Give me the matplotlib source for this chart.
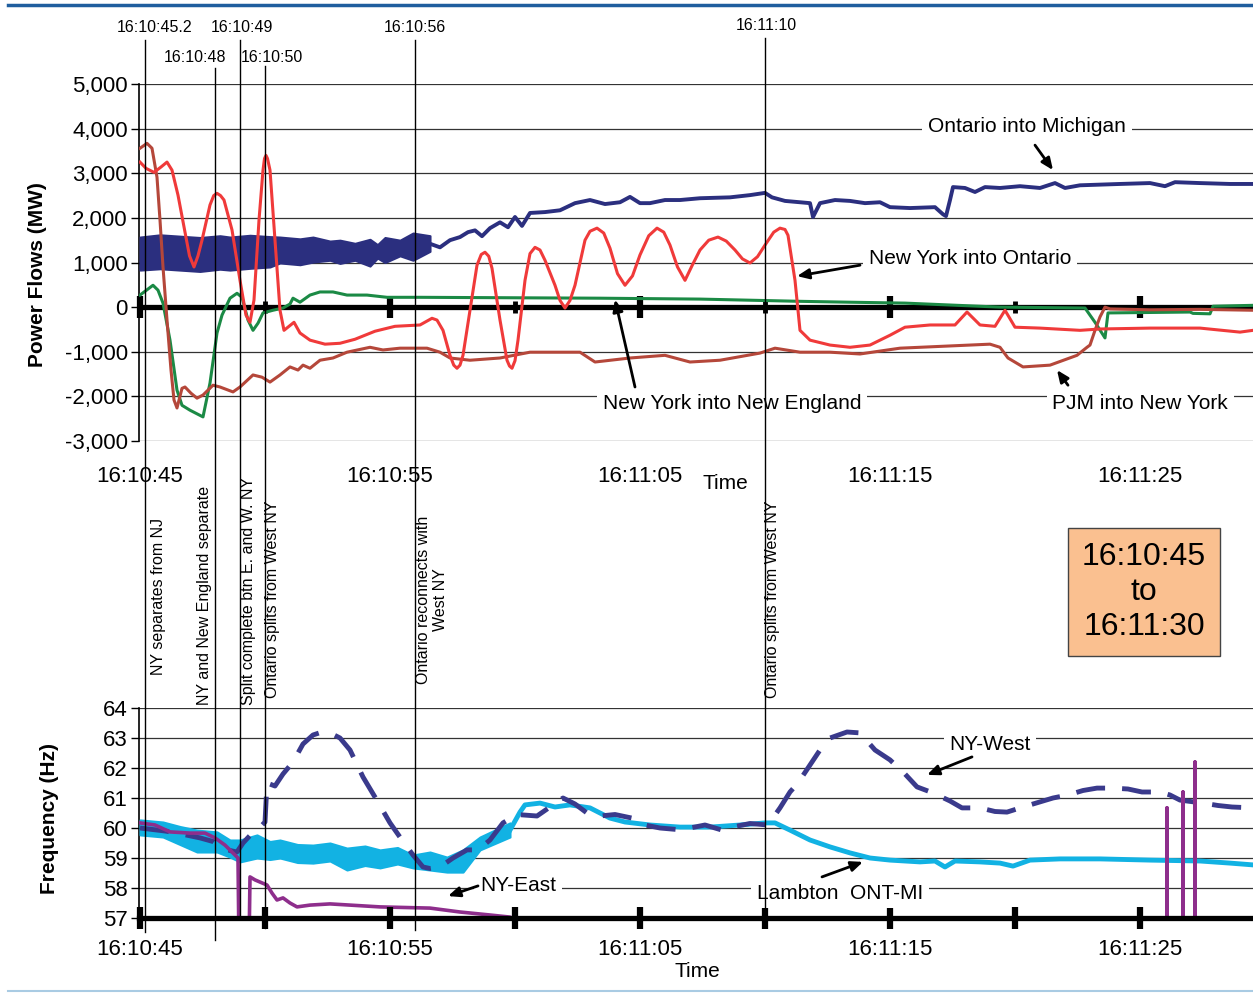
import numpy as np
import matplotlib.pyplot as plt
from matplotlib.lines import Line2D
from matplotlib.transforms import blended_transform_factory

plt.rcParams['font.family'] = ['Liberation Sans', 'DejaVu Sans']

# time is in seconds after 16:10:45
tick_t = [0, 10, 20, 30, 40]
tick_labels = ['16:10:45', '16:10:55', '16:11:05', '16:11:15', '16:11:25']

# ---------------- power flows (MW) ----------------
# Ontario into Michigan: noisy start read as an envelope, then the trace
om_band_t = [0.0, 0.8, 1.6, 2.4, 3.2, 3.6, 4.4, 5.2, 5.6, 6.4, 6.92, 7.6, 8.0, 8.6, 9.2,
             9.5, 9.8, 10.4, 10.92, 11.6]
om_band_hi = [1570, 1620, 1590, 1560, 1600, 1570, 1610, 1580, 1570, 1530, 1570, 1480, 1500,
              1430, 1520, 1400, 1560, 1500, 1660, 1600]
om_band_lo = [830, 860, 830, 800, 850, 830, 870, 900, 990, 950, 1010, 1050, 980, 1050, 920,
              1100, 1000, 1150, 1050, 1250]
om_t = [11.6, 12.0, 12.4, 12.8, 13.12, 13.4, 13.68, 14.0, 14.4, 14.72, 15.0, 15.28,
        15.6, 16.2, 16.8, 17.4, 18.0, 18.6, 19.2, 19.6, 20.0, 20.4, 21.0, 21.6, 22.4,
        23.6, 24.4, 25.0, 25.28, 25.8, 26.4, 26.8, 26.92, 27.2, 27.8, 28.4, 29.0, 29.6,
        30.0, 30.8, 31.8, 32.12, 32.24, 32.4, 32.52, 33.0, 33.4, 33.8, 34.4, 35.2, 36.0,
        36.6, 37.0, 37.6, 39.2, 40.4, 41.0, 41.4, 42.4, 43.6, 44.52]
om_p = [1420, 1340, 1500, 1570, 1680, 1720, 1590, 1770, 1900, 1790, 2020, 1820,
        2110, 2130, 2170, 2330, 2400, 2310, 2350, 2470, 2330, 2330, 2400, 2400, 2440,
        2460, 2510, 2560, 2460, 2380, 2350, 2330, 2020, 2330, 2400, 2380, 2330, 2350,
        2240, 2220, 2240, 2080, 2040, 2400, 2690, 2670, 2580, 2690, 2670, 2710, 2670,
        2780, 2670, 2730, 2760, 2780, 2710, 2800, 2780, 2760, 2760]

# New York into Ontario
nyo_t = [0.0, 0.24, 0.56, 0.84, 1.08, 1.28, 1.52, 1.8, 1.98, 2.16, 2.32, 2.48, 2.8, 2.95,
         3.08, 3.22, 3.36, 3.68, 4.0, 4.24, 4.4, 4.56, 4.76, 4.92, 4.98, 5.04, 5.1, 5.2, 5.4,
         5.6, 5.76, 5.96, 6.16, 6.4, 6.8, 7.4, 8.0, 8.6, 9.4, 10.2, 11.2, 11.68, 11.88, 12.12,
         12.4, 12.55, 12.68, 12.8, 12.92, 13.2, 13.48, 13.65, 13.8, 13.95, 14.08, 14.4, 14.68,
         14.78, 14.88, 15.0, 15.12, 15.4, 15.6, 15.8, 16.0, 16.2, 16.6, 16.8, 17.0, 17.2, 17.4,
         17.8, 18.0, 18.28, 18.55, 18.8, 19.1, 19.4, 19.7, 20.0, 20.35, 20.68, 20.95, 21.2,
         21.5, 21.8, 22.1, 22.4, 22.75, 23.12, 23.45, 23.8, 24.1, 24.4, 24.7, 25.0, 25.35,
         25.6, 25.8, 25.92, 26.2, 26.4, 26.8, 27.6, 28.4, 29.2, 30.0, 30.6, 31.6, 32.6, 33.08,
         33.6, 34.2, 34.6, 35.0, 36.0, 37.6, 38.4, 40.4, 42.4, 44.0, 44.52]
nyo_p = [3250, 3110, 3020, 3140, 3250, 3070, 2510, 1680, 1150, 900, 1150, 1500, 2290, 2500,
         2550, 2500, 2400, 1730, 600, -180, -340, 160, 1950, 3070, 3330, 3400, 3330, 3070, 1500,
         -70, -520, -430, -340, -580, -740, -830, -810, -720, -540, -430, -400, -250, -290, -520,
         -1080, -1300, -1370, -1300, -1080, -70, 940, 1180, 1230, 1140, 870, -290, -1190,
         -1320, -1370, -1200, -740, 600, 1200, 1340, 1280, 1050, 490, 150, -20, 150, 490,
         1500, 1700, 1770, 1660, 1320, 750, 490, 700, 1170, 1600, 1770, 1680, 1390,
         900, 600, 950, 1280, 1500, 1570, 1480, 1280, 1080, 990, 1130, 1390, 1680,
         1770, 1740, 1610, 600, -520, -740, -850, -900, -850, -630, -450, -400, -400, -110,
         -400, -430, -70, -450, -470, -520, -490, -470, -470, -560, -520]

# PJM into New York
pjm_t = [0.0, 0.28, 0.48, 0.68, 0.8, 0.92, 1.08, 1.24, 1.36, 1.48, 1.68, 1.8, 2.04, 2.28,
         2.52, 2.92, 3.2, 3.72, 4.0, 4.52, 4.88, 5.2, 5.6, 6.0, 6.32, 6.52, 6.8, 7.2, 7.72,
         8.28, 9.2, 9.72, 10.4, 11.48, 12.0, 12.4, 13.2, 14.4, 15.6, 17.6, 18.2, 19.6, 21.0,
         22.0, 23.2, 24.8, 25.4, 26.4, 27.6, 28.8, 30.4, 32.4, 34.0, 34.4, 34.72, 35.32,
         36.4, 37.48, 37.88, 38.0, 38.2, 38.4, 38.6, 38.8, 40.4, 42.4, 44.52]
pjm_p = [3560, 3670, 3560, 2910, 1950, 900, -290, -1410, -2080, -2260, -1820, -1790, -1930,
         -2040, -1970, -1750, -1790, -1900, -1790, -1520, -1570, -1680, -1520, -1340, -1410,
         -1300, -1370, -1190, -1140, -1010, -900, -960, -920, -920, -1010, -1140, -1190,
         -1140, -1010, -1010, -1230, -1140, -1080, -1230, -1190, -1030, -920, -1010, -1010,
         -1050, -920, -870, -830, -900, -1140, -1340, -1300, -1080, -900, -850, -520, -220,
         0, -40, -60, -50, -70]

# New York into New England
nyne_t = [0.0, 0.52, 0.72, 0.92, 1.2, 1.48, 1.68, 2.0, 2.52, 2.8, 3.08, 3.28, 3.6, 3.88,
          4.08, 4.32, 4.52, 4.72, 4.92, 5.32, 5.72, 6.0, 6.12, 6.4, 6.8, 7.2, 7.72, 8.28,
          9.08, 9.88, 11.2, 18.4, 22.4, 24.0, 26.4, 28.4, 30.6, 34.4, 37.8, 38.2, 38.6,
          38.72, 42.0, 42.12, 42.8, 42.92, 44.52]
nyne_p = [270, 490, 380, 90, -740, -1860, -2200, -2310, -2460, -1700, -580, -180, 200, 310,
          220, -290, -520, -360, -130, -70, -20, 70, 200, 110, 270, 340, 340, 270,
          270, 220, 220, 200, 180, 160, 130, 110, 90, 0, -20, -340, -690,
          -130, -110, -140, -150, 20, 40]

# ---------------- frequency (Hz) ----------------
# Lambton ONT-MI: noisy band first, then the trace
lam_band_t = [0.0, 0.92, 1.6, 2.28, 3.08, 3.6, 4.0, 4.68, 5.2, 5.6, 6.3, 6.92, 7.6, 8.28,
              9.0, 9.6, 10.3, 10.92, 11.6, 12.28, 12.92, 13.6, 14.8]
lam_band_hi = [60.27, 60.2, 60.05, 59.93, 59.87, 59.6, 59.6, 59.77, 59.55, 59.6, 59.45,
               59.43, 59.5, 59.33, 59.4, 59.27, 59.35, 59.1, 59.2, 59.03, 59.27, 59.7, 60.17]
lam_band_lo = [59.77, 59.7, 59.45, 59.2, 59.2, 59.03, 58.87, 59.0, 58.95, 59.0, 58.85,
               58.83, 58.9, 58.6, 58.75, 58.67, 58.8, 58.67, 58.6, 58.53, 58.53, 59.27, 59.7]
lam_t = [14.8, 15.2, 15.4, 16.0, 16.6, 17.2, 18.0, 18.8, 19.4, 20.4, 21.6, 22.8, 24.0, 25.0,
         25.4, 26.0, 26.8, 27.6, 28.4, 29.2, 30.0, 31.2, 31.8, 32.2, 32.6, 33.6, 34.4, 34.92,
         35.6, 36.8, 38.4, 40.4, 42.4, 43.6, 44.52]
lam_f = [59.93, 60.53, 60.77, 60.83, 60.7, 60.77, 60.67, 60.33, 60.2, 60.1, 60.03, 60.03,
         60.1, 60.17, 60.17, 59.93, 59.6, 59.37, 59.17, 59.0, 58.93, 58.87, 58.9, 58.7,
         58.9, 58.87, 58.83, 58.73, 58.93, 58.97, 58.97, 58.93, 58.9, 58.83, 58.77]

# NY-West
nyw_t = [0.0, 1.0, 1.48, 2.4, 2.92, 3.28, 3.6, 3.88, 4.12, 4.4, 4.72, 5.0, 5.08, 5.4, 5.72,
         6.12, 6.52, 6.92, 7.28, 7.6, 8.0, 8.4, 8.92, 9.4, 10.0, 10.48, 10.92, 11.32, 11.6,
         12.0, 12.52, 13.08, 13.52, 14.0, 14.52, 15.08, 15.88, 16.4, 16.92, 17.4, 17.88,
         18.4, 19.0, 19.68, 20.2, 20.8, 21.48, 22.0, 22.6, 23.28, 23.8, 24.4, 25.12, 25.6,
         26.0, 26.32, 26.8, 27.2, 27.6, 28.28, 28.8, 29.4, 30.0, 30.6, 31.08, 31.72, 32.4,
         32.88, 33.6, 34.2, 34.68, 35.32, 35.92, 36.52, 37.12, 37.72, 38.28, 38.92, 39.52,
         40.08, 40.8, 41.2, 41.6, 42.52, 43.12, 43.68, 44.52]
nyw_f = [60.0, 59.9, 59.83, 59.67, 59.55, 59.33, 59.25, 59.2, 59.5, 59.75, 59.95, 60.2, 61.5,
         61.4, 61.8, 62.2, 62.8, 63.1, 63.2, 63.17, 63.0, 62.6, 61.7, 61.03, 60.17, 59.6,
         59.1, 58.7, 58.65, 58.7, 59.0, 59.27, 59.27, 59.6, 60.17, 60.45, 60.4, 60.7, 61.0,
         60.8, 60.5, 60.4, 60.45, 60.33, 60.1, 60.0, 59.95, 60.0, 60.1, 59.93, 60.05, 60.15,
         60.1, 60.67, 61.2, 61.5, 62.1, 62.6, 63.0, 63.2, 63.17, 62.6, 62.27, 61.8, 61.37,
         61.17, 60.9, 60.67, 60.67, 60.55, 60.53, 60.7, 60.85, 61.0, 61.1, 61.25, 61.33,
         61.33, 61.3, 61.2, 61.2, 61.1, 60.93, 60.83, 60.75, 60.7, 60.67]

# NY-East
nye_t = [0.0, 0.6, 1.2, 2.0, 2.6, 3.0, 3.4, 3.8, 3.92, 3.96, 4.36, 4.4, 4.6, 4.88, 5.08, 5.28,
         5.48, 5.72, 6.0, 6.28, 6.8, 7.6, 9.6, 11.6, 12.8, 14.0, 14.8, 15.0,
         41.08, 41.08, 41.08, 41.72, 41.72, 41.72, 42.2, 42.2, 42.2, 44.52]
nye_f = [60.17, 60.1, 59.87, 59.83, 59.83, 59.67, 59.43, 59.1, 59.0, 56.0, 56.0, 58.37, 58.27,
         58.17, 58.1, 57.83, 57.6, 57.67, 57.5, 57.37, 57.43, 57.47, 57.37, 57.33, 57.2,
         57.1, 57.03, 56.95, 56.95, 60.67, 56.95, 56.95, 61.2, 56.95, 56.95, 62.2, 56.95, 56.95]

# event markers
ev_t = [0.2, 3.0, 4.0, 5.0, 11.0, 25.0]
ev_names = ['16:10:45.2', '16:10:48', '16:10:49', '16:10:50', '16:10:56', '16:11:10']
ev_name_t = [0.6, 2.2, 4.08, 5.28, 11.0, 25.04]
ev_name_px = [28, 57, 28, 57, 28, 26]
ev_line_px = [(40, 932), (68, 940), (40, 918), (66, 928), (40, 930), (38, 920)]
desc = ['NY separates from NJ', 'NY and New England separate',
        'Split complete btn E. and W. NY', 'Ontario splits from West NY',
        'Ontario reconnects with\nWest NY', 'Ontario splits from West NY']
desc_t = [0.72, 2.6, 4.32, 5.28, 11.68, 25.32]
desc_px = [675, 705, 705, 698, 600, 698]

W, H = 1253, 993
fig = plt.figure(figsize=(W / 100, H / 100), dpi=100)
ax1 = fig.add_axes([139 / W, 1 - 441 / H, 1 - 139 / W, 357 / H])
ax2 = fig.add_axes([139 / W, 1 - 918 / H, 1 - 139 / W, 210 / H])

for ax in (ax1, ax2):
    ax.set_xlim(-0.04, 44.52)
    for s in ('top', 'right', 'bottom'):
        ax.spines[s].set_visible(False)
    ax.spines['left'].set_linewidth(1.2)
    ax.grid(axis='y', color='#333333', lw=0.9)
    ax.set_axisbelow(True)
    ax.tick_params(axis='y', direction='out', length=6, width=1, labelsize=16, pad=2)
    ax.set_xticks(tick_t, tick_labels)

ax1.tick_params(axis='x', length=0, labelsize=16, pad=18)
ax2.tick_params(axis='x', length=0, labelsize=16, pad=15)

# power flows
ax1.set_ylim(-3000, 5000)
yt = list(range(-3000, 5001, 1000))
ax1.set_yticks(yt, [f'{v:,}' for v in yt])
ax1.fill_between(om_band_t, om_band_lo, om_band_hi, color='#2B2F7F', lw=1.5,
                 edgecolor='#2B2F7F', zorder=3)
ax1.plot(om_t, om_p, color='#2B2F7F', lw=2.8, zorder=3)
ax1.axhline(0, color='black', lw=3.8, zorder=2.5)
ax1.plot(tick_t, [0] * len(tick_t), '|', color='black', ms=16, mew=4.5, zorder=2.6,
         clip_on=False)
ax1.plot([5, 15, 25, 35], [0] * 4, '|', color='black', ms=9, mew=3.5, zorder=2.6)
ax1.plot(nyne_t, nyne_p, color='#1B8A45', lw=2.2, zorder=4)
ax1.plot(pjm_t, pjm_p, color='#B5473A', lw=2.2, zorder=4)
ax1.plot(nyo_t, nyo_p, color='#F03A3A', lw=2.2, zorder=5)

lab = dict(fontsize=15, ha='center', va='center', zorder=6,
           bbox=dict(facecolor='white', edgecolor='none', pad=4))
arr = dict(arrowstyle='-|>,head_length=0.7,head_width=0.3', color='black', lw=2,
           shrinkA=0, shrinkB=0)
ax1.text(35.48, 4050, 'Ontario into Michigan', **lab)
ax1.text(33.2, 1100, 'New York into Ontario', **lab)
ax1.text(23.68, -2150, 'New York into New England', **lab)
ax1.text(40.0, -2150, 'PJM into New York', **lab)
ax1.annotate('', xy=(36.52, 3070), xytext=(35.8, 3630), arrowprops=arr, zorder=6)
ax1.annotate('', xy=(26.28, 695), xytext=(28.8, 940), arrowprops=arr, zorder=6)
ax1.annotate('', xy=(19.0, 170), xytext=(19.8, -1790), arrowprops=arr, zorder=6)
ax1.annotate('', xy=(36.68, -1410), xytext=(37.12, -1750), arrowprops=arr, zorder=6)
ax1.text(23.4, -0.12, 'Time', fontsize=15, ha='center', va='center',
         transform=blended_transform_factory(ax1.transData, ax1.transAxes))

# frequency
ax2.set_ylim(57, 64)
ax2.set_yticks(range(57, 65))
ax2.fill_between(lam_band_t, lam_band_lo, lam_band_hi, color='#12B2E3', lw=1.5,
                 edgecolor='#12B2E3', zorder=3)
ax2.plot(lam_t, lam_f, color='#12B2E3', lw=3.5, zorder=3)
ax2.plot(nyw_t, nyw_f, color='#3A3A8C', lw=3.5, dashes=(6, 3.5), zorder=4)
ax2.plot(nye_t, nye_f, color='#8E2E8C', lw=2.6, zorder=5)
ax2.axhline(57, color='black', lw=3.8, zorder=6, clip_on=False)
ax2.plot(np.arange(0, 41, 5), [57] * 9, '|', color='black', ms=16, mew=4.5, zorder=6,
         clip_on=False)
ax2.text(34.0, 62.8, 'NY-West', **lab)
ax2.text(15.12, 58.07, 'NY-East', **lab)
ax2.text(28.0, 57.83, 'Lambton  ONT-MI', **lab)
ax2.annotate('', xy=(31.48, 61.77), xytext=(33.28, 62.37), arrowprops=arr, zorder=7)
ax2.annotate('', xy=(12.32, 57.73), xytext=(13.52, 58.07), arrowprops=arr, zorder=7)
ax2.annotate('', xy=(28.92, 58.87), xytext=(27.28, 58.37), arrowprops=arr, zorder=7)
ax2.text(22.3, -0.257, 'Time', fontsize=15, ha='center', va='center',
         transform=blended_transform_factory(ax2.transData, ax2.transAxes))

# event lines spanning both panels
tr = blended_transform_factory(ax1.transData, fig.transFigure)
for t, (p0, p1) in zip(ev_t, ev_line_px):
    fig.add_artist(Line2D([t, t], [1 - p0 / H, 1 - p1 / H], color='black', lw=1,
                          transform=tr))
for t, name, py in zip(ev_name_t, ev_names, ev_name_px):
    fig.text(t, 1 - py / H, name, fontsize=11.5, ha='center', va='center', transform=tr)
for t, d, py in zip(desc_t, desc, desc_px):
    va = 'center' if '\n' in d else 'bottom'
    fig.text(t, 1 - py / H, d, fontsize=11.5, rotation=90, ha='center', va=va,
             multialignment='center', transform=tr)

fig.text(38 / W, 1 - 275 / H, 'Power Flows (MW)', rotation=90, fontsize=15,
         fontweight='bold', ha='center', va='center')
fig.text(50 / W, 1 - 818 / H, 'Frequency (Hz)', rotation=90, fontsize=15,
         fontweight='bold', ha='center', va='center')
fig.text(1144 / W, 1 - 592 / H, '16:10:45\nto\n16:11:30', fontsize=23, ha='center',
         va='center', linespacing=1.2,
         bbox=dict(boxstyle='square,pad=0.45', facecolor='#FAC090', edgecolor='#444444'))

fig.add_artist(Line2D([8 / W, 1], [1 - 5 / H] * 2, color='#1F5E9E', lw=2.5))
fig.add_artist(Line2D([8 / W, 1], [1 - 991 / H] * 2, color='#A9CBE3', lw=1.5))

fig.savefig('out.png', dpi=100)
